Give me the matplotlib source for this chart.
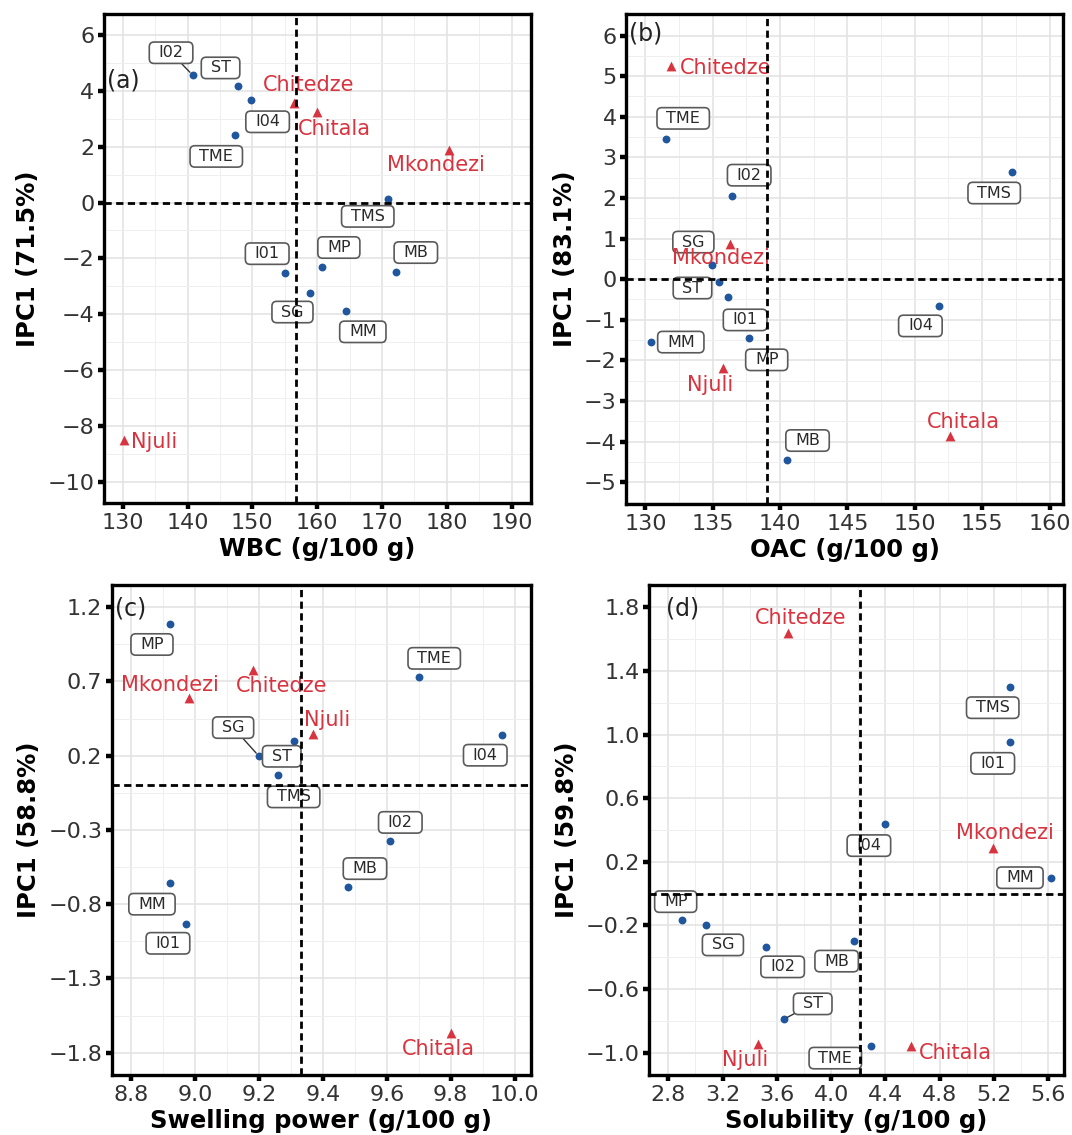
import matplotlib
matplotlib.use("Agg")
import matplotlib.pyplot as plt
import numpy as np
from matplotlib.ticker import FixedLocator, FuncFormatter
from matplotlib.patches import BoxStyle

plt.rcParams['font.family'] = ['DejaVu Sans']

# ---------------- data ----------------
names = ["I01", "I02", "I04", "MB", "MM", "MP", "SG", "ST", "TME", "TMS",
         "Chitala", "Chitedze", "Mkondezi", "Njuli"]
red_names = ["Chitala", "Chitedze", "Mkondezi", "Njuli"]

wbc   = [155.0, 140.8, 149.8, 172.2, 164.5, 160.8, 158.9, 147.8, 147.3, 171.0, 160.0, 156.4, 180.3, 130.2]
ipc_a = [-2.52, 4.56, 3.66, -2.48, -3.90, -2.30, -3.23, 4.17, 2.42, 0.12, 3.26, 3.58, 1.90, -8.51]
wbc_ref = 156.7

oac   = [136.1, 136.4, 151.8, 140.5, 130.4, 137.7, 134.95, 135.5, 131.5, 157.2, 152.6, 131.9, 136.3, 135.8]
ipc_b = [-0.45, 2.06, -0.65, -4.45, -1.55, -1.46, 0.36, -0.06, 3.46, 2.65, -3.86, 5.26, 0.86, -2.19]
oac_ref = 139.05

swp   = [8.97, 9.61, 9.96, 9.48, 8.92, 8.92, 9.20, 9.31, 9.70, 9.26, 9.80, 9.18, 8.98, 9.37]
ipc_c = [-0.93, -0.375, 0.337, -0.686, -0.659, 1.09, 0.197, 0.30, 0.73, 0.071, -1.67, 0.78, 0.59, 0.345]
swp_ref = 9.33

sol   = [5.32, 3.52, 4.40, 4.17, 5.62, 2.90, 3.08, 3.65, 4.29, 5.32, 4.59, 3.68, 5.19, 3.46]
ipc_d = [0.95, -0.336, 0.44, -0.30, 0.10, -0.168, -0.198, -0.79, -0.958, 1.30, -0.958, 1.64, 0.284, -0.947]
sol_ref = 4.21

xlabels = ["WBC (g/100 g)", "OAC (g/100 g)", "Swelling power (g/100 g)", "Solubility (g/100 g)"]
ylabels = ["IPC1 (71.5%)", "IPC1 (83.1%)", "IPC1 (58.8%)", "IPC1 (59.8%)"]
panel_tags = ["(a)", "(b)", "(c)", "(d)"]

# ---------------- layout / style ----------------
# label offsets (dx, dy) relative to each point, scaled per panel to pixels
offs = [
    {"I02": (-21, 21), "ST": (-17, 17), "I04": (16, -20), "TME": (-18, -20), "Chitedze": (14, 16),
     "Chitala": (17, -16), "Mkondezi": (-12, -14), "TMS": (-20, -16), "I01": (-17, 18), "MP": (16, 18),
     "MB": (19, 18), "SG": (-17, -18), "MM": (16, -19), "Njuli": (29, -2)},
    {"Chitedze": (53, -2), "TME": (17, 19), "I02": (17, 19), "TMS": (-17, -20), "Mkondezi": (-9, -13),
     "SG": (-18, 21), "ST": (-26, -6), "I01": (17, -21), "MP": (17, -20), "I04": (-18, -19),
     "MM": (29, 0), "Njuli": (-13, -16), "Chitala": (13, 13), "MB": (20, 18)},
    {"MP": (-17, -19), "TME": (15, 17), "Chitedze": (28, -15), "Mkondezi": (-18, 12), "SG": (-25, 26),
     "ST": (-12, -14), "TMS": (15, -20), "Njuli": (13, 13), "I04": (-16, -18), "I02": (10, 17),
     "MB": (16, 17), "MM": (-17, -19), "I01": (-17, -18), "Chitala": (-12, -14)},
    {"Chitedze": (12, 13), "TMS": (-17, -19), "I01": (-17, -19), "I04": (-16, -20), "Mkondezi": (12, 14),
     "MM": (-30, 0), "MP": (-6, 17), "SG": (16, -18), "I02": (16, -18), "MB": (-17, -18),
     "ST": (28, 14), "Njuli": (-12, -14), "TME": (-34, -11), "Chitala": (43, -6)},
]
off_scale = [(1.033, 1.071), (1.037, 1.071), (1.033, 1.10), (1.037, 1.10)]
leaders = [["I02"], [], ["SG"], ["ST"]]

axes_rects = [
    [0.0970, 0.5568, 0.3983, 0.4308],
    [0.5844, 0.5559, 0.4072, 0.4317],
    [0.1045, 0.0529, 0.3904, 0.4317],
    [0.6057, 0.0529, 0.3868, 0.4317],
]
xlims = [(127.1, 193.0), (128.6, 161.0), (8.74, 10.05), (2.66, 5.715)]
ylims = [(-10.76, 6.75), (-5.54, 6.53), (-1.95, 1.35), (-1.14, 1.94)]
xmajor = [np.arange(130, 191, 10), np.arange(130, 161, 5), np.arange(8.8, 10.01, 0.2), np.arange(2.8, 5.61, 0.4)]
ymajor = [np.arange(-10, 7, 2), np.arange(-5, 7, 1), np.arange(-1.8, 1.21, 0.5), np.arange(-1.0, 1.81, 0.4)]
xfmt = ["%d", "%d", "%.1f", "%.1f"]
yfmt = ["%d", "%d", "%.1f", "%.1f"]
tag_pos = [(0.046, 0.865), (0.045, 0.961), (0.045, 0.953), (0.079, 0.953)]

blue = "#1f569e"
red = "#d8343f"


def make_fmt(f):
    def _f(v, p):
        s = f % (round(v, 6) + 0.0)
        return s.replace("-", "\u2212")
    return FuncFormatter(_f)


_round = BoxStyle.Round(pad=0.0, rounding_size=0.3)


def label_box(x0, y0, width, height, mutation_size):
    px = 0.58 * mutation_size
    py = 0.20 * mutation_size
    return _round(x0 - px, y0 - py, width + 2 * px, height + 2 * py, mutation_size)


fig = plt.figure(figsize=(10.72, 11.35), dpi=100)

datasets = [(wbc, ipc_a, wbc_ref), (oac, ipc_b, oac_ref), (swp, ipc_c, swp_ref), (sol, ipc_d, sol_ref)]

for i, (xs, ys, xref) in enumerate(datasets):
    ax = fig.add_axes(axes_rects[i])
    ax.set_xlim(*xlims[i])
    ax.set_ylim(*ylims[i])
    ax.xaxis.set_major_locator(FixedLocator(xmajor[i]))
    ax.yaxis.set_major_locator(FixedLocator(ymajor[i]))
    xm = xmajor[i]; ym = ymajor[i]
    dx = xm[1] - xm[0]; dy = ym[1] - ym[0]
    xminor = np.arange(xm[0] - dx / 2, xm[-1] + dx, dx)
    yminor = np.arange(ym[0] - dy / 2, ym[-1] + dy, dy)
    ax.xaxis.set_minor_locator(FixedLocator(xminor))
    ax.yaxis.set_minor_locator(FixedLocator(yminor))
    ax.xaxis.set_major_formatter(make_fmt(xfmt[i]))
    ax.yaxis.set_major_formatter(make_fmt(yfmt[i]))
    ax.grid(which="major", color="#e2e2e2", lw=1.1)
    ax.grid(which="minor", color="#efefef", lw=0.7)
    ax.set_axisbelow(True)
    ax.tick_params(which="major", direction="out", length=4, width=3.2, color="black",
                   labelsize=16, labelcolor="#333333", pad=3)
    ax.tick_params(which="minor", length=0)
    for s in ax.spines.values():
        s.set_linewidth(2.4)
        s.set_color("black")
    ax.set_xlabel(xlabels[i], fontsize=17.5, fontweight="bold", labelpad=3)
    ax.set_ylabel(ylabels[i], fontsize=17.5, fontweight="bold", labelpad=5)

    xs = np.asarray(xs); ys = np.asarray(ys)
    isred = np.array([n in red_names for n in names])
    ax.scatter(xs[~isred], ys[~isred], s=32, color=blue, zorder=3, linewidths=0)
    ax.scatter(xs[isred], ys[isred], s=50, marker="^", color=red, zorder=3, linewidths=0)

    kx, ky = off_scale[i]
    for n, x, y in zip(names, xs, ys):
        ox, oy = offs[i][n]
        ox *= kx; oy *= ky
        arrow = None
        if n in leaders[i]:
            arrow = dict(arrowstyle="-", color="#333333", lw=1.0, shrinkA=0, shrinkB=3)
        if n in red_names:
            ax.annotate(n, (x, y), xytext=(ox, oy), textcoords="offset pixels",
                        ha="center", va="center", fontsize=15, color=red, zorder=4)
        else:
            ax.annotate(n, (x, y), xytext=(ox, oy), textcoords="offset pixels",
                        ha="center", va="center", fontsize=11.5, color="#2a2a2a", zorder=4,
                        bbox=dict(boxstyle=label_box, fc="white", ec="#5a5a5a", lw=1.2),
                        arrowprops=arrow)

    ax.axvline(xref, color="black", ls=(0, (2.6, 1.6)), lw=2.0, zorder=5)
    ax.axhline(0, color="black", ls=(0, (2.6, 1.6)), lw=2.0, zorder=5)

    ax.text(tag_pos[i][0], tag_pos[i][1], panel_tags[i], transform=ax.transAxes,
            ha="center", va="center", fontsize=17, color="#222222", zorder=6)

fig.savefig("out.png", dpi=100)
